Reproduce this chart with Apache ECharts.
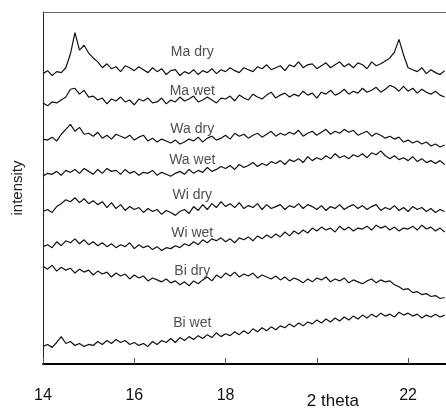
<!DOCTYPE html>
<html>
<head>
<meta charset="utf-8">
<script src="https://cdn.jsdelivr.net/npm/echarts@6/dist/echarts.min.js"></script>
<style>
html,body{margin:0;padding:0;background:#fff;}
#chart{width:446px;height:410px;}
</style>
</head>
<body>
<div id="chart"></div>
<script>
// 2-theta sampling grid (degrees)
var theta = [14.0,14.1,14.2,14.3,14.4,14.5,14.6,14.7,14.8,14.9,
15.0,15.1,15.2,15.3,15.4,15.5,15.6,15.7,15.8,15.9,
16.0,16.1,16.2,16.3,16.4,16.5,16.6,16.7,16.8,16.9,
17.0,17.1,17.2,17.3,17.4,17.5,17.6,17.7,17.8,17.9,
18.0,18.1,18.2,18.3,18.4,18.5,18.6,18.7,18.8,18.9,
19.0,19.1,19.2,19.3,19.4,19.5,19.6,19.7,19.8,19.9,
20.0,20.1,20.2,20.3,20.4,20.5,20.6,20.7,20.8,20.9,
21.0,21.1,21.2,21.3,21.4,21.5,21.6,21.7,21.8,21.9,
22.0,22.1,22.2,22.3,22.4,22.5,22.6,22.7,22.8];

var maDry = [297,300,295,299,298,303,317,339,321,326,318,313,309,303,307,302,304,299,305,303,
300,304,301,298,303,299,302,296,300,301,295,299,297,301,296,300,298,302,297,301,
299,303,300,298,303,301,299,304,302,306,301,303,305,300,306,304,309,303,306,307,
302,305,308,303,306,309,304,307,303,308,306,302,309,305,307,310,313,319,332,316,
303,301,299,303,297,301,298,296,300];

var maWet = [267,264,268,267,270,273,281,282,276,280,273,274,270,272,266,271,269,273,268,270,
265,271,269,272,267,268,272,266,270,268,273,269,271,274,268,270,273,270,267,272,
271,274,269,275,272,270,276,273,271,275,278,272,275,277,273,276,274,279,275,277,
272,278,276,280,275,277,281,276,279,277,282,278,280,283,278,281,285,283,279,284,
279,282,277,281,278,276,279,275,273];

var waDry = [230,229,232,228,235,240,245,238,242,235,236,233,237,231,234,230,235,233,231,234,
229,232,234,228,231,227,230,228,226,229,225,227,230,228,232,227,231,233,229,231,
234,230,236,233,235,231,234,236,232,235,238,233,236,234,237,235,239,233,236,238,
234,237,240,235,238,236,240,237,239,234,236,238,233,236,234,231,233,230,232,227,
229,226,228,225,227,223,225,222,224];

var waWet = [192,195,194,197,193,198,196,199,195,200,197,194,199,195,200,197,198,194,199,195,
197,193,196,195,198,193,196,194,192,195,197,194,199,195,198,196,201,197,199,202,
200,203,199,204,201,203,206,202,205,203,207,205,208,204,209,207,210,206,212,208,
211,209,213,210,215,211,213,210,214,212,215,211,216,214,218,213,210,213,209,211,
208,212,207,210,206,208,205,208,204];

var wiDry = [156,158,155,161,164,168,166,170,165,169,164,167,163,166,160,165,159,163,157,161,
158,160,155,159,156,158,153,157,155,152,156,158,154,161,157,163,158,164,160,166,
161,164,160,165,159,162,160,164,158,163,159,161,163,158,162,160,164,159,163,161,
158,162,157,161,159,163,158,161,163,159,162,158,161,163,157,160,158,162,157,160,
156,161,158,160,156,159,155,158,156];

var wiWet = [120,122,119,125,121,126,124,128,123,127,122,125,121,124,120,123,119,122,120,124,
118,122,119,121,117,120,116,119,118,121,119,123,121,125,122,127,124,128,126,129,
125,128,124,129,127,130,126,131,128,132,129,133,130,135,131,136,133,137,134,139,
136,140,137,139,135,141,137,140,136,139,138,141,137,142,139,141,137,140,136,139,
138,141,137,142,138,140,136,139,135];

var biDry = [100,97,101,95,99,96,98,93,97,94,96,91,95,92,94,89,93,90,92,87,
91,88,90,85,88,86,84,87,83,85,81,84,80,85,82,86,89,85,91,88,
93,90,94,89,92,90,93,88,91,89,87,90,86,89,85,88,86,83,87,84,
88,86,89,84,87,85,88,83,86,84,82,85,87,83,86,84,85,81,79,76,
77,73,74,71,72,69,70,67,68];

var biWet = [18,20,17,22,28,21,23,19,21,18,20,19,23,20,24,21,25,22,24,20,
22,19,21,18,23,20,24,22,26,22,27,24,28,25,29,26,30,27,32,28,
31,29,33,30,34,31,36,33,37,34,38,35,39,37,41,38,42,39,43,41,
45,42,46,43,47,44,48,45,49,46,50,47,51,48,52,49,51,48,53,50,
52,49,51,47,50,48,51,48,50];

var seriesNames = ['Ma dry','Ma wet','Wa dry','Wa wet','Wi dry','Wi wet','Bi dry','Bi wet'];
var seriesValues = [maDry, maWet, waDry, waWet, wiDry, wiWet, biDry, biWet];
// label anchor (2 theta, intensity) for each trace name
var labelTheta = [17.27,17.27,17.27,17.27,17.27,17.27,17.27,17.27];
var labelLevel = [319,279,240,209,173,134,95,42];

var xMin = 14, xMax = 22.83, xStep = 2;
var xTitle = '2 theta';
var yTitle = 'intensity';

var FONT = '"Liberation Sans", Arial, Helvetica, sans-serif';

var series = seriesValues.map(function(vals, k){
  return {
    name: seriesNames[k],
    type: 'line',
    data: theta.map(function(t, i){ return [t, vals[i]]; }),
    showSymbol: false,
    symbol: 'none',
    lineStyle: {color: '#111', width: 1.2},
    animation: false,
    silent: true,
    z: 2
  };
});
series.push({
  type: 'scatter',
  data: seriesNames.map(function(n, k){ return [labelTheta[k], labelLevel[k], n]; }),
  symbolSize: 0,
  label: {
    show: true, position: 'inside',
    formatter: function(p){ return p.value[2]; },
    fontFamily: FONT, fontSize: 14, color: '#222'
  },
  silent: true, animation: false, z: 3
});

var chart = echarts.init(document.getElementById('chart'), null, {renderer: 'canvas'});
chart.setOption({
  backgroundColor: '#fff',
  animation: false,
  grid: {left: 43, top: 12, right: 0, bottom: 38, containLabel: false},
  xAxis: [{
    type: 'value', min: xMin, max: xMax, interval: xStep,
    position: 'bottom',
    axisLine: {show: true, onZero: false, lineStyle: {color: '#000', width: 2}},
    axisTick: {show: true, inside: true, length: 6, lineStyle: {color: '#555', width: 1}},
    axisLabel: {
      show: true, margin: 24, fontSize: 16, color: '#111', fontFamily: FONT,
      showMaxLabel: false,
      formatter: function(v){
        if (v === 20) return '{t|' + xTitle + '}';
        return String(v);
      },
      rich: {t: {fontSize: 17, color: '#111', fontFamily: FONT, padding: [5, 0, 0, 32]}}
    },
    splitLine: {show: false}
  }, {
    type: 'value', min: xMin, max: xMax,
    position: 'top',
    axisLine: {show: true, onZero: false, lineStyle: {color: '#666', width: 1}},
    axisTick: {show: false}, axisLabel: {show: false}, splitLine: {show: false}
  }],
  yAxis: {
    type: 'value', min: 0, max: 360,
    name: yTitle, nameLocation: 'middle', nameGap: 18,
    nameTextStyle: {fontSize: 15, color: '#222', fontFamily: FONT},
    axisLine: {show: true, onZero: false, lineStyle: {color: '#222', width: 1}},
    axisTick: {show: false}, axisLabel: {show: false}, splitLine: {show: false}
  },
  series: series
});
</script>
</body>
</html>
